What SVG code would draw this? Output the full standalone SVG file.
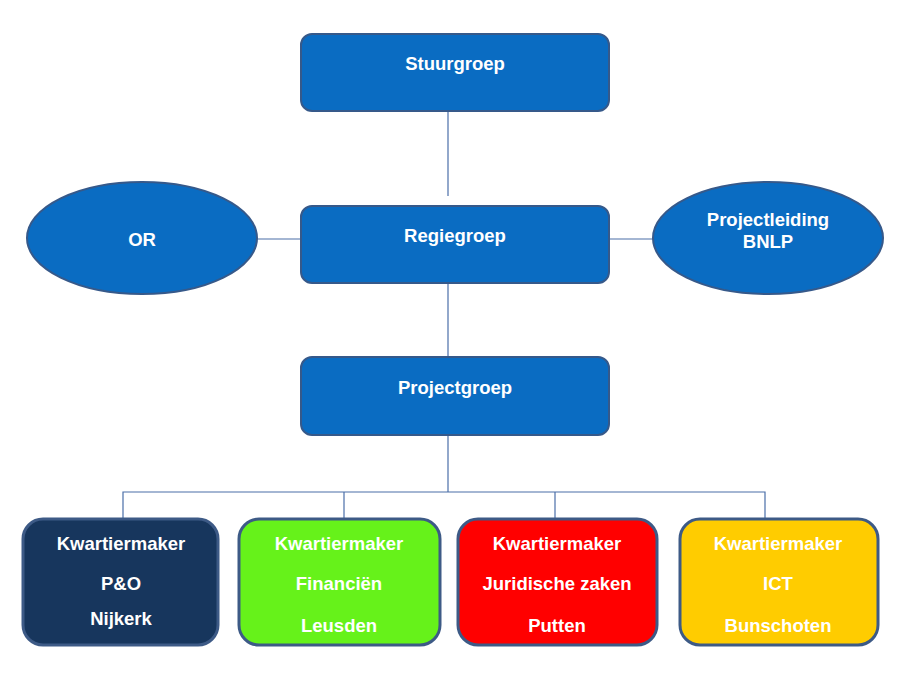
<svg xmlns="http://www.w3.org/2000/svg" width="916" height="674" viewBox="0 0 916 674">
<style>
.blue{fill:#0a6cc2;stroke:#36598a;stroke-width:2}
.km{stroke:#3d5a86;stroke-width:3}
.t{font-family:"Liberation Sans",Arial,sans-serif;font-weight:bold;font-size:18.5px;fill:#fff;text-anchor:middle}
.c{fill:none;stroke:#4a6ea8;stroke-width:1.2}
</style>
<rect width="916" height="674" fill="#fff"/>
<g id="connectors">
<line class="c" x1="448" y1="111" x2="448" y2="196"/>
<line class="c" x1="448" y1="283" x2="448" y2="357"/>
<line class="c" x1="448" y1="435" x2="448" y2="492"/>
<line class="c" x1="257" y1="239" x2="301" y2="239"/>
<line class="c" x1="609" y1="239" x2="653" y2="239"/>
<polyline class="c" points="123,519 123,492 765,492 765,519"/>
<line class="c" x1="344" y1="492" x2="344" y2="519"/>
<line class="c" x1="555" y1="492" x2="555" y2="519"/>
</g>
<g id="stuurgroep"><rect class="blue" x="301" y="34" width="308" height="77" rx="11"/><text class="t" x="455" y="70">Stuurgroep</text></g>
<g id="regiegroep"><rect class="blue" x="301" y="206" width="308" height="77" rx="11"/><text class="t" x="455" y="242">Regiegroep</text></g>
<g id="projectgroep"><rect class="blue" x="301" y="357" width="308" height="78" rx="11"/><text class="t" x="455" y="394">Projectgroep</text></g>
<g id="or"><ellipse class="blue" cx="142" cy="238" rx="115" ry="56"/><text class="t" x="142" y="246">OR</text></g>
<g id="projectleiding"><ellipse class="blue" cx="768" cy="238" rx="115" ry="56"/><text class="t" x="768" y="226">Projectleiding</text><text class="t" x="768" y="248">BNLP</text></g>
<g id="po"><rect class="km" x="23" y="519" width="195" height="126" rx="20" fill="#17365d"/><text class="t" x="121" y="550">Kwartiermaker</text><text class="t" x="121" y="590">P&amp;O</text><text class="t" x="121" y="625">Nijkerk</text></g>
<g id="financien"><rect class="km" x="239" y="519" width="201" height="126" rx="20" fill="#66f21a"/><text class="t" x="339" y="550">Kwartiermaker</text><text class="t" x="339" y="590">Financiën</text><text class="t" x="339" y="632">Leusden</text></g>
<g id="juridisch"><rect class="km" x="458" y="519" width="199" height="126" rx="20" fill="#ff0000"/><text class="t" x="557" y="550">Kwartiermaker</text><text class="t" x="557" y="590">Juridische zaken</text><text class="t" x="557" y="632">Putten</text></g>
<g id="ict"><rect class="km" x="680" y="519" width="198" height="126" rx="20" fill="#ffcc00"/><text class="t" x="778" y="550">Kwartiermaker</text><text class="t" x="778" y="590">ICT</text><text class="t" x="778" y="632">Bunschoten</text></g>
</svg>
